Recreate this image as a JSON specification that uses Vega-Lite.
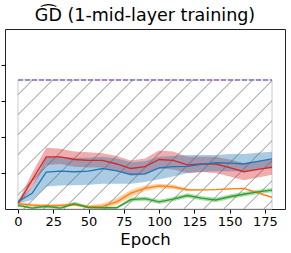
{
  "$schema": "https://vega.github.io/schema/vega-lite/v6.json",
  "width": 280,
  "height": 180,
  "autosize": {"type": "none"},
  "padding": {"left": 5, "top": 29, "right": 6, "bottom": 44},
  "config": {
    "font": "DejaVu Sans",
    "view": {"stroke": "#222", "strokeWidth": 1}
  },
  "title": {"text": "G͡D (1-mid-layer training)", "fontSize": 17.5, "fontWeight": "normal", "font": "DejaVu Sans", "color": "#000", "offset": 5, "anchor": "middle"},
  "datasets": {
    "runs": [
      {"epoch": 0, "s": "D", "m": 0.03, "lo": 0.02, "hi": 0.04},
      {"epoch": 10, "s": "D", "m": 0.16, "lo": 0.12, "hi": 0.2},
      {"epoch": 20, "s": "D", "m": 0.29, "lo": 0.245, "hi": 0.34},
      {"epoch": 30, "s": "D", "m": 0.29, "lo": 0.25, "hi": 0.335},
      {"epoch": 40, "s": "D", "m": 0.275, "lo": 0.235, "hi": 0.32},
      {"epoch": 50, "s": "D", "m": 0.27, "lo": 0.23, "hi": 0.315},
      {"epoch": 60, "s": "D", "m": 0.27, "lo": 0.23, "hi": 0.31},
      {"epoch": 70, "s": "D", "m": 0.25, "lo": 0.21, "hi": 0.295},
      {"epoch": 80, "s": "D", "m": 0.225, "lo": 0.185, "hi": 0.27},
      {"epoch": 90, "s": "D", "m": 0.235, "lo": 0.19, "hi": 0.28},
      {"epoch": 100, "s": "D", "m": 0.275, "lo": 0.225, "hi": 0.325},
      {"epoch": 110, "s": "D", "m": 0.27, "lo": 0.22, "hi": 0.32},
      {"epoch": 120, "s": "D", "m": 0.245, "lo": 0.2, "hi": 0.29},
      {"epoch": 130, "s": "D", "m": 0.25, "lo": 0.205, "hi": 0.29},
      {"epoch": 140, "s": "D", "m": 0.25, "lo": 0.2, "hi": 0.29},
      {"epoch": 150, "s": "D", "m": 0.23, "lo": 0.18, "hi": 0.275},
      {"epoch": 160, "s": "D", "m": 0.207, "lo": 0.16, "hi": 0.255},
      {"epoch": 170, "s": "D", "m": 0.22, "lo": 0.175, "hi": 0.265},
      {"epoch": 180, "s": "D", "m": 0.232, "lo": 0.19, "hi": 0.275},
      {"epoch": 0, "s": "A", "m": 0.04, "lo": 0.03, "hi": 0.05},
      {"epoch": 10, "s": "A", "m": 0.087, "lo": 0.05, "hi": 0.12},
      {"epoch": 20, "s": "A", "m": 0.205, "lo": 0.125, "hi": 0.29},
      {"epoch": 30, "s": "A", "m": 0.21, "lo": 0.13, "hi": 0.29},
      {"epoch": 40, "s": "A", "m": 0.207, "lo": 0.132, "hi": 0.285},
      {"epoch": 50, "s": "A", "m": 0.21, "lo": 0.135, "hi": 0.285},
      {"epoch": 60, "s": "A", "m": 0.225, "lo": 0.14, "hi": 0.29},
      {"epoch": 70, "s": "A", "m": 0.212, "lo": 0.14, "hi": 0.28},
      {"epoch": 80, "s": "A", "m": 0.193, "lo": 0.14, "hi": 0.26},
      {"epoch": 90, "s": "A", "m": 0.195, "lo": 0.15, "hi": 0.265},
      {"epoch": 100, "s": "A", "m": 0.228, "lo": 0.165, "hi": 0.29},
      {"epoch": 110, "s": "A", "m": 0.235, "lo": 0.18, "hi": 0.295},
      {"epoch": 120, "s": "A", "m": 0.237, "lo": 0.2, "hi": 0.3},
      {"epoch": 130, "s": "A", "m": 0.248, "lo": 0.205, "hi": 0.3},
      {"epoch": 140, "s": "A", "m": 0.257, "lo": 0.21, "hi": 0.3},
      {"epoch": 150, "s": "A", "m": 0.255, "lo": 0.21, "hi": 0.305},
      {"epoch": 160, "s": "A", "m": 0.25, "lo": 0.21, "hi": 0.305},
      {"epoch": 170, "s": "A", "m": 0.265, "lo": 0.22, "hi": 0.312},
      {"epoch": 180, "s": "A", "m": 0.278, "lo": 0.235, "hi": 0.318},
      {"epoch": 0, "s": "B", "m": 0.03, "lo": 0.022, "hi": 0.038},
      {"epoch": 10, "s": "B", "m": 0.022, "lo": 0.014, "hi": 0.03},
      {"epoch": 20, "s": "B", "m": 0.017, "lo": 0.009, "hi": 0.025},
      {"epoch": 30, "s": "B", "m": 0.02, "lo": 0.012, "hi": 0.028},
      {"epoch": 40, "s": "B", "m": 0.025, "lo": 0.017, "hi": 0.033},
      {"epoch": 50, "s": "B", "m": 0.013, "lo": 0.005, "hi": 0.021},
      {"epoch": 60, "s": "B", "m": 0.016, "lo": 0.006, "hi": 0.03},
      {"epoch": 70, "s": "B", "m": 0.04, "lo": 0.022, "hi": 0.06},
      {"epoch": 80, "s": "B", "m": 0.088, "lo": 0.068, "hi": 0.105},
      {"epoch": 90, "s": "B", "m": 0.115, "lo": 0.1, "hi": 0.13},
      {"epoch": 100, "s": "B", "m": 0.128, "lo": 0.115, "hi": 0.14},
      {"epoch": 110, "s": "B", "m": 0.123, "lo": 0.11, "hi": 0.135},
      {"epoch": 120, "s": "B", "m": 0.107, "lo": 0.1, "hi": 0.114},
      {"epoch": 130, "s": "B", "m": 0.106, "lo": 0.103, "hi": 0.109},
      {"epoch": 140, "s": "B", "m": 0.108, "lo": 0.105, "hi": 0.111},
      {"epoch": 150, "s": "B", "m": 0.112, "lo": 0.109, "hi": 0.115},
      {"epoch": 160, "s": "B", "m": 0.115, "lo": 0.112, "hi": 0.118},
      {"epoch": 170, "s": "B", "m": 0.09, "lo": 0.085, "hi": 0.095},
      {"epoch": 180, "s": "B", "m": 0.065, "lo": 0.06, "hi": 0.07},
      {"epoch": 0, "s": "C", "m": 0.02, "lo": 0.012, "hi": 0.028},
      {"epoch": 10, "s": "C", "m": 0.005, "lo": 0.0, "hi": 0.012},
      {"epoch": 20, "s": "C", "m": 0.015, "lo": 0.005, "hi": 0.027},
      {"epoch": 30, "s": "C", "m": 0.005, "lo": 0.0, "hi": 0.013},
      {"epoch": 40, "s": "C", "m": 0.03, "lo": 0.02, "hi": 0.04},
      {"epoch": 50, "s": "C", "m": 0.008, "lo": 0.002, "hi": 0.016},
      {"epoch": 60, "s": "C", "m": 0.007, "lo": 0.002, "hi": 0.014},
      {"epoch": 70, "s": "C", "m": 0.007, "lo": 0.002, "hi": 0.014},
      {"epoch": 80, "s": "C", "m": 0.052, "lo": 0.04, "hi": 0.064},
      {"epoch": 90, "s": "C", "m": 0.058, "lo": 0.046, "hi": 0.07},
      {"epoch": 100, "s": "C", "m": 0.04, "lo": 0.028, "hi": 0.052},
      {"epoch": 110, "s": "C", "m": 0.055, "lo": 0.043, "hi": 0.067},
      {"epoch": 120, "s": "C", "m": 0.075, "lo": 0.063, "hi": 0.087},
      {"epoch": 130, "s": "C", "m": 0.06, "lo": 0.048, "hi": 0.072},
      {"epoch": 140, "s": "C", "m": 0.05, "lo": 0.038, "hi": 0.062},
      {"epoch": 150, "s": "C", "m": 0.068, "lo": 0.056, "hi": 0.08},
      {"epoch": 160, "s": "C", "m": 0.082, "lo": 0.07, "hi": 0.094},
      {"epoch": 170, "s": "C", "m": 0.095, "lo": 0.083, "hi": 0.107},
      {"epoch": 180, "s": "C", "m": 0.105, "lo": 0.093, "hi": 0.117}
    ],
    "hatch": [
      {"e1": 0, "v1": 0.635, "e2": 10.42, "v2": 0.717},
      {"e1": 0, "v1": 0.524, "e2": 24.59, "v2": 0.717},
      {"e1": 0, "v1": 0.413, "e2": 38.76, "v2": 0.717},
      {"e1": 0, "v1": 0.302, "e2": 52.93, "v2": 0.717},
      {"e1": 0, "v1": 0.191, "e2": 67.1, "v2": 0.717},
      {"e1": 0, "v1": 0.079, "e2": 81.27, "v2": 0.717},
      {"e1": 4.04, "v1": 0, "e2": 95.44, "v2": 0.717},
      {"e1": 18.21, "v1": 0, "e2": 109.61, "v2": 0.717},
      {"e1": 32.38, "v1": 0, "e2": 123.78, "v2": 0.717},
      {"e1": 46.55, "v1": 0, "e2": 137.95, "v2": 0.717},
      {"e1": 60.72, "v1": 0, "e2": 152.12, "v2": 0.717},
      {"e1": 74.89, "v1": 0, "e2": 166.29, "v2": 0.717},
      {"e1": 89.06, "v1": 0, "e2": 180, "v2": 0.7128},
      {"e1": 103.23, "v1": 0, "e2": 180, "v2": 0.6017},
      {"e1": 117.4, "v1": 0, "e2": 180, "v2": 0.4906},
      {"e1": 131.57, "v1": 0, "e2": 180, "v2": 0.3794},
      {"e1": 145.74, "v1": 0, "e2": 180, "v2": 0.2683},
      {"e1": 159.91, "v1": 0, "e2": 180, "v2": 0.1572},
      {"e1": 174.08, "v1": 0, "e2": 180, "v2": 0.0461}
    ],
    "bound": [{"e1": 0, "e2": 180, "v0": 0, "v": 0.717}]
  },
  "layer": [
    {
      "data": {"name": "bound"},
      "mark": {"type": "rect", "fill": "white", "fillOpacity": 0, "stroke": "#cccccc", "strokeWidth": 1},
      "encoding": {
        "x": {"field": "e1", "type": "quantitative", "scale": {"domain": [-9.2, 189.2], "nice": false, "zero": false},
          "axis": {"values": [0, 25, 50, 75, 100, 125, 150, 175], "title": "Epoch", "titleFontSize": 16.5, "titleFontWeight": "normal", "titleColor": "#000", "titlePadding": 3, "labelFontSize": 13, "labelColor": "#000", "labelPadding": 2, "labelOverlap": false, "labelFlush": false, "tickSize": 4, "tickColor": "#000", "domain": false, "grid": false}},
        "x2": {"field": "e2"},
        "y": {"field": "v0", "type": "quantitative", "scale": {"domain": [0, 1], "nice": false, "zero": false},
          "axis": {"values": [0.2, 0.4, 0.6, 0.8], "labels": false, "title": null, "tickSize": 4, "tickColor": "#000", "domain": false, "grid": false}},
        "y2": {"field": "v"}
      }
    },
    {
      "data": {"name": "hatch"},
      "mark": {"type": "rule", "color": "#6e6e6e", "strokeWidth": 0.8},
      "encoding": {
        "x": {"field": "e1", "type": "quantitative",
          "axis": {"values": [0, 25, 50, 75, 100, 125, 150, 175], "title": "Epoch", "titleFontSize": 16.5, "titleFontWeight": "normal", "titleColor": "#000", "titlePadding": 3, "labelFontSize": 13, "labelColor": "#000", "labelPadding": 2, "labelOverlap": false, "labelFlush": false, "tickSize": 4, "tickColor": "#000", "domain": false, "grid": false}},
        "x2": {"field": "e2"},
        "y": {"field": "v1", "type": "quantitative",
          "axis": {"values": [0.2, 0.4, 0.6, 0.8], "labels": false, "title": null, "tickSize": 4, "tickColor": "#000", "domain": false, "grid": false}},
        "y2": {"field": "v2"}
      }
    },
    {
      "data": {"name": "runs"},
      "mark": {"type": "area", "opacity": 0.38},
      "encoding": {
        "x": {"field": "epoch", "type": "quantitative",
          "axis": {"values": [0, 25, 50, 75, 100, 125, 150, 175], "title": "Epoch", "titleFontSize": 16.5, "titleFontWeight": "normal", "titleColor": "#000", "titlePadding": 3, "labelFontSize": 13, "labelColor": "#000", "labelPadding": 2, "labelOverlap": false, "labelFlush": false, "tickSize": 4, "tickColor": "#000", "domain": false, "grid": false}},
        "y": {"field": "lo", "type": "quantitative",
          "axis": {"values": [0.2, 0.4, 0.6, 0.8], "labels": false, "title": null, "tickSize": 4, "tickColor": "#000", "domain": false, "grid": false}},
        "y2": {"field": "hi"},
        "color": {"field": "s", "type": "nominal", "scale": {"domain": ["A", "B", "C", "D"], "range": ["#1f77b4", "#ff7f0e", "#2ca02c", "#d62728"]}, "legend": null}
      }
    },
    {
      "data": {"name": "runs"},
      "mark": {"type": "line", "strokeWidth": 1.3},
      "encoding": {
        "x": {"field": "epoch", "type": "quantitative",
          "axis": {"values": [0, 25, 50, 75, 100, 125, 150, 175], "title": "Epoch", "titleFontSize": 16.5, "titleFontWeight": "normal", "titleColor": "#000", "titlePadding": 3, "labelFontSize": 13, "labelColor": "#000", "labelPadding": 2, "labelOverlap": false, "labelFlush": false, "tickSize": 4, "tickColor": "#000", "domain": false, "grid": false}},
        "y": {"field": "m", "type": "quantitative",
          "axis": {"values": [0.2, 0.4, 0.6, 0.8], "labels": false, "title": null, "tickSize": 4, "tickColor": "#000", "domain": false, "grid": false}},
        "color": {"field": "s", "type": "nominal", "scale": {"domain": ["A", "B", "C", "D"], "range": ["#1f77b4", "#ff7f0e", "#2ca02c", "#d62728"]}, "legend": null}
      }
    },
    {
      "data": {"name": "bound"},
      "mark": {"type": "rule", "color": "#9467bd", "strokeWidth": 1.5, "strokeDash": [5, 2]},
      "encoding": {
        "x": {"field": "e1", "type": "quantitative",
          "axis": {"values": [0, 25, 50, 75, 100, 125, 150, 175], "title": "Epoch", "titleFontSize": 16.5, "titleFontWeight": "normal", "titleColor": "#000", "titlePadding": 3, "labelFontSize": 13, "labelColor": "#000", "labelPadding": 2, "labelOverlap": false, "labelFlush": false, "tickSize": 4, "tickColor": "#000", "domain": false, "grid": false}},
        "x2": {"field": "e2"},
        "y": {"field": "v", "type": "quantitative",
          "axis": {"values": [0.2, 0.4, 0.6, 0.8], "labels": false, "title": null, "tickSize": 4, "tickColor": "#000", "domain": false, "grid": false}}
      }
    }
  ]
}
